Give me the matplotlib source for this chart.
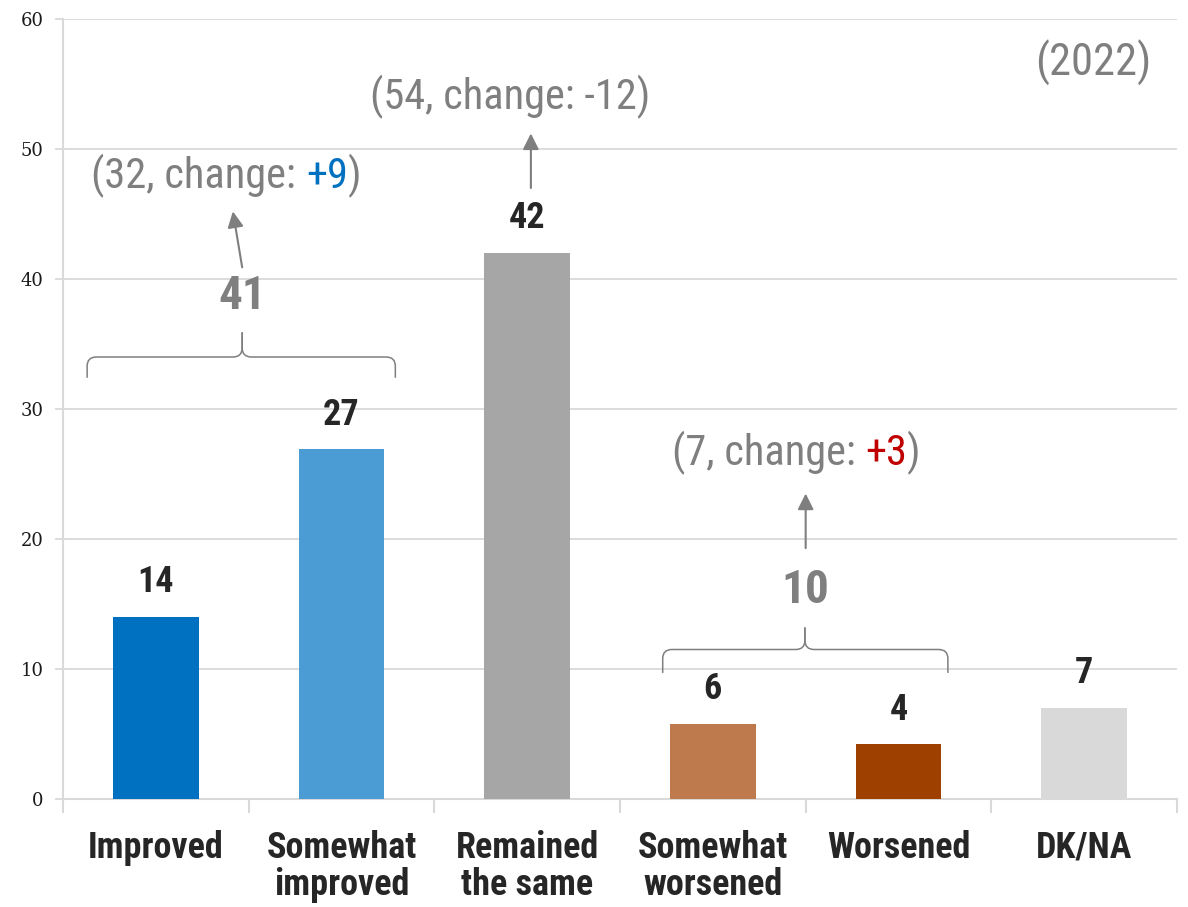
import matplotlib
matplotlib.use("Agg")
import matplotlib.pyplot as plt
from matplotlib.path import Path
from matplotlib.patches import PathPatch
from matplotlib.transforms import ScaledTranslation
import numpy as np

# ---- data ----
categories = ['Improved', 'Somewhat\nimproved', 'Remained\nthe same',
              'Somewhat\nworsened', 'Worsened', 'DK/NA']
values = [14.0, 26.9, 42.0, 5.8, 4.2, 7.0]
bar_colors = ['#0070C0', '#4B9BD4', '#A6A6A6', '#BE7A4C', '#9E4000', '#D9D9D9']

# grouped summaries
group_members = [(0, 1), (2,), (3, 4)]
group_totals = [41, None, 10]
group_prev = [32, 54, 7]
group_change = ['+9', '-12', '+3']
group_change_colors = ['#0070C0', '#7F7F7F', '#C00000']
year_label = '(2022)'

GREY = '#7F7F7F'
NARROW = ['Roboto Condensed', 'DejaVu Sans']

fig = plt.figure(figsize=(11.88, 9.07), dpi=100)
ax = fig.add_axes([63/1188, 108/907, (1177-63)/1188, (799-19)/907])

x = np.arange(len(categories))
ax.bar(x, values, width=0.46, color=bar_colors, zorder=3)

ax.set_xlim(-0.5, len(categories) - 0.5)
ax.set_ylim(0, 60)
ax.set_yticks(np.arange(0, 61, 10))
ax.yaxis.grid(True, color='#D9D9D9', lw=1.3, zorder=0)
ax.set_axisbelow(True)
for s in ['top', 'right']:
    ax.spines[s].set_visible(False)
for s in ['left', 'bottom']:
    ax.spines[s].set_color('#D9D9D9')
    ax.spines[s].set_linewidth(1.5)

ax.tick_params(axis='y', length=6, color='#D9D9D9', width=1.3, pad=8, labelsize=13)
for lab in ax.get_yticklabels():
    lab.set_fontfamily('DejaVu Serif')
    lab.set_color('#1a1a1a')

ax.set_xticks(x)
ax.set_xticklabels(categories, fontsize=26, fontweight='bold', color='#262626',
                   family=NARROW, linespacing=1.05)
ax.tick_params(axis='x', which='major', length=0, pad=22)
ax.set_xticks(np.arange(-0.5, len(categories), 1), minor=True)
ax.tick_params(axis='x', which='minor', length=10, color='#D9D9D9', width=1.5)

# bar value labels
for xi, v in zip(x, values):
    ax.annotate(f'{round(v)}', (xi, v), xytext=(0, 12), textcoords='offset points',
                ha='center', va='bottom', fontsize=26, fontweight='bold',
                color='#262626', family=NARROW)

renderer = fig.canvas.get_renderer()


def width_of(s, **kw):
    t = ax.text(0, 0, s, **kw)
    w = t.get_window_extent(renderer).width
    t.remove()
    return w


def multicolor(xc, yc, parts, **kw):
    full = ''.join(p for p, _ in parts)
    total = width_of(full, **kw)
    prefix = ''
    for p, c in parts:
        prefix += p
        start = width_of(prefix, **kw) - width_of(p, **kw)
        off = (start - total / 2) / fig.dpi
        ax.text(xc, yc, p, color=c, ha='left', va='center',
                transform=ax.transData + ScaledTranslation(off, 0, fig.dpi_scale_trans), **kw)


def brace(xl, xr, xc, ybot, ymid, ytop, rx=0.05, ry=0.7):
    for xe, sgn in ((xl, 1), (xr, -1)):
        verts = [(xe, ybot), (xe, ymid - ry), (xe, ymid), (xe + sgn * rx, ymid),
                 (xc - sgn * rx, ymid), (xc, ymid), (xc, ymid + ry), (xc, ytop)]
        codes = [Path.MOVETO, Path.LINETO, Path.CURVE3, Path.CURVE3,
                 Path.LINETO, Path.CURVE3, Path.CURVE3, Path.LINETO]
        ax.add_patch(PathPatch(Path(verts, codes), fill=False, ec=GREY, lw=1.1,
                               zorder=4, capstyle='butt'))


arrow_kw = dict(arrowstyle='-|>', color=GREY, lw=1.5, mutation_scale=24,
                shrinkA=0, shrinkB=0)
ann_kw = dict(fontsize=30.5, family=NARROW)

# group 1 : improved
m = group_members[0]
brace(m[0] - 0.37, m[1] + 0.29, 0.465, 32.4, 34.0, 35.9)
ax.text(0.465, 38.7, str(group_totals[0]), ha='center', va='center', fontsize=34,
        fontweight='bold', color=GREY, family=NARROW)
ax.annotate('', xy=(0.415, 45.2), xytext=(0.465, 40.9), arrowprops=arrow_kw)
multicolor(0.38, 47.9, [(f'({group_prev[0]}, change: ', GREY),
                        (group_change[0], group_change_colors[0]), (')', GREY)], **ann_kw)

# group 2 : remained the same
ax.annotate('', xy=(2.02, 51.2), xytext=(2.02, 47.0), arrowprops=arrow_kw)
multicolor(1.91, 54.0, [(f'({group_prev[1]}, change: {group_change[1]})', GREY)], **ann_kw)

# group 3 : worsened
m = group_members[2]
brace(m[0] - 0.27, m[1] + 0.266, 3.496, 9.7, 11.5, 13.2)
ax.text(3.50, 16.1, str(group_totals[2]), ha='center', va='center', fontsize=34,
        fontweight='bold', color=GREY, family=NARROW)
ax.annotate('', xy=(3.50, 23.5), xytext=(3.50, 19.3), arrowprops=arrow_kw)
multicolor(3.45, 26.6, [(f'({group_prev[2]}, change: ', GREY),
                        (group_change[2], group_change_colors[2]), (')', GREY)], **ann_kw)

ax.text(5.05, 56.6, year_label, ha='center', va='center', color=GREY,
        fontsize=32, family=NARROW)

fig.savefig('out.png', dpi=100)
